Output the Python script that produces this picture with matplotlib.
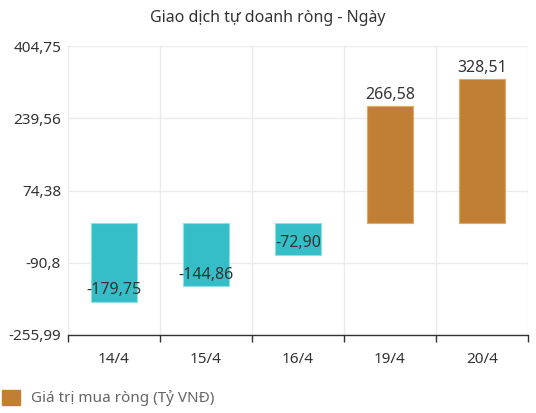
import matplotlib
matplotlib.use("Agg")
import matplotlib.pyplot as plt
from matplotlib.patches import Patch

plt.rcParams['font.family'] = ['Noto Sans', 'DejaVu Sans']

dates = ['14/4', '15/4', '16/4', '19/4', '20/4']
values = [-179.75, -144.86, -72.90, 266.58, 328.51]
yticks = [-255.99, -90.8, 74.38, 239.56, 404.75]
ytick_labels = ['-255,99', '-90,8', '74,38', '239,56', '404,75']

neg_color = '#35BEC8'
pos_color = '#C17F36'

fig = plt.figure(figsize=(5.36, 4.13), dpi=100)
ax = fig.add_axes([68 / 536, 1 - 335 / 413, 460 / 536, 289 / 413])

x = list(range(len(dates)))
colors = [pos_color if v >= 0 else neg_color for v in values]
edges = ['#E0A869' if v >= 0 else '#8FE0E6' for v in values]
ax.bar(x, values, width=0.51, color=colors, edgecolor=edges, linewidth=0.8, zorder=3)

for xi, v in zip(x, values):
    label = f"{v:.2f}".replace('.', ',')
    ax.annotate(label, (xi, v), xytext=(0, 2.5), textcoords='offset points',
                ha='center', va='bottom', fontsize=11.5, color='#333333', zorder=4)

ax.set_xlim(-0.5, len(dates) - 0.5)
ax.set_ylim(yticks[0], yticks[-1])
ax.set_yticks(yticks)
ax.set_yticklabels(ytick_labels, fontsize=11, color='#333333')
ax.set_xticks(x)
ax.set_xticklabels(dates, fontsize=11, color='#333333', fontweight='semibold')
ax.set_xticks([i - 0.5 for i in range(len(dates) + 1)], minor=True)
ax.tick_params(axis='x', which='major', length=0, pad=12)
ax.tick_params(axis='x', which='minor', length=5, color='#333333', width=1)
ax.tick_params(axis='y', length=0, pad=5)

ax.grid(True, axis='y', color='#EBEBEB', linewidth=1, zorder=0)
ax.grid(True, axis='x', which='minor', color='#EBEBEB', linewidth=1, zorder=0)
ax.grid(False, axis='x', which='major')
for s in ['top', 'right', 'left']:
    ax.spines[s].set_visible(False)
ax.spines['bottom'].set_color('#333333')
ax.spines['bottom'].set_linewidth(1)

fig.text(0.5, 1 - 18 / 413, 'Giao dịch tự doanh ròng - Ngày', ha='center', va='center',
         fontsize=11.5, color='#333333')

handle = Patch(facecolor=pos_color, edgecolor=pos_color, label='Giá trị mua ròng (Tỷ VNĐ)')
fig.legend(handles=[handle], loc='center left', bbox_to_anchor=(-0.022, 1 - 398 / 413),
           frameon=False, fontsize=11, handlelength=1.2, handleheight=1.2,
           handletextpad=0.7, labelcolor='#666666')

fig.savefig('out.png', dpi=100)
